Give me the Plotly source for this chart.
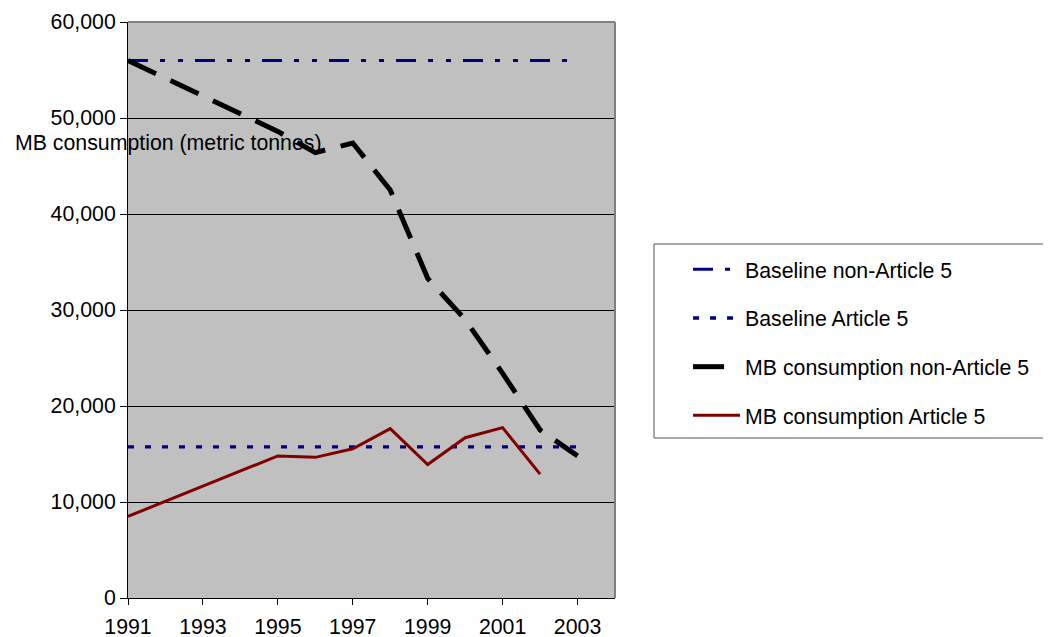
import plotly.graph_objects as go

years = [1991, 1992, 1993, 1994, 1995, 1996, 1997, 1998, 1999, 2000, 2001, 2002, 2003]
baseline_non_a5 = [56000, 56000, 56000, 56000, 56000, 56000, 56000, 56000, 56000, 56000, 56000, 56000, 56000]
baseline_a5 = [15750, 15750, 15750, 15750, 15750, 15750, 15750, 15750, 15750, 15750, 15750, 15750, 15750]
mb_non_a5 = [56000, None, None, None, 48600, 46400, 47400, 42500, 33300, 29000, 23400, 17500, 14800]
mb_a5 = [8500, None, None, None, 14800, 14650, 15550, 17650, 13900, 16700, 17750, 12900, None]

x_ticks = [1991, 1993, 1995, 1997, 1999, 2001, 2003]
y_ticks = [0, 10000, 20000, 30000, 40000, 50000, 60000]

FONT = "Liberation Sans, Arial, sans-serif"
FS = 21.3

# page body has an 8px margin; plot area target: x 128..615, y 22..598 on screen
L, T = 120, 14
PW, PH = 487, 576

fig = go.Figure()
fig.add_trace(go.Scatter(
    x=years, y=baseline_non_a5, mode="lines", name="Baseline non-Article 5",
    legendgroup="g1",
    line=dict(color="#000080", width=3, dash="20px,12px,5px,13px,5px,12px"),
))
fig.add_trace(go.Scatter(
    x=years, y=baseline_a5, mode="lines", name="Baseline Article 5",
    legendgroup="g2",
    line=dict(color="#000080", width=3.3, dash="6px,11px"),
))
fig.add_trace(go.Scatter(
    x=years, y=mb_non_a5, mode="lines", name="MB consumption non-Article 5",
    legendgroup="g3", connectgaps=True,
    line=dict(color="#000000", width=5, dash="31px,16px"),
))
fig.add_trace(go.Scatter(
    x=years, y=mb_a5, mode="lines", name="MB consumption Article 5",
    legendgroup="g4", connectgaps=True,
    line=dict(color="#800000", width=3),
))

W, H = 1051, 637
fig.update_layout(
    width=W, height=H,
    margin=dict(l=L, r=W - L - PW, t=T, b=H - T - PH),
    paper_bgcolor="white",
    plot_bgcolor="#C0C0C0",
    font=dict(family=FONT, size=FS, color="black"),
    showlegend=True,
    legend=dict(
        x=1.15, y=0.606, xanchor="left", yanchor="top",
        bgcolor="rgba(0,0,0,0)", borderwidth=0,
        font=dict(family=FONT, size=FS, color="black"),
        tracegroupgap=18, itemwidth=47,
    ),
    xaxis=dict(
        range=[1991, 2004], tickvals=x_ticks, ticktext=[str(v) for v in x_ticks],
        showgrid=False, zeroline=False, automargin=False,
        showline=True, linecolor="black", linewidth=1,
        ticks="outside", ticklen=6, tickcolor="black", ticklabelstandoff=3,
        tickfont=dict(family=FONT, size=FS, color="black"),
    ),
    yaxis=dict(
        range=[0, 60000], tickvals=y_ticks, tickformat=",",
        showgrid=True, gridcolor="black", gridwidth=1,
        zeroline=False, automargin=False,
        showline=True, linecolor="black", linewidth=1,
        ticks="outside", ticklen=7, tickcolor="black",
        tickfont=dict(family=FONT, size=FS, color="black"),
    ),
    shapes=[
        dict(type="line", xref="x domain", yref="y domain", x0=0, x1=1, y0=1, y1=1,
             line=dict(color="#808080", width=2)),
        dict(type="line", xref="x domain", yref="y domain", x0=1, x1=1, y0=0, y1=1,
             line=dict(color="#808080", width=2)),
        dict(type="rect", xref="paper", yref="paper",
             x0=(654 - 128) / PW, x1=(1049 - 128) / PW,
             y0=(598 - 438) / PH, y1=(598 - 244) / PH,
             fillcolor="white", line=dict(color="#555555", width=1), layer="below"),
    ],
    annotations=[
        dict(text="MB consumption (metric tonnes)", xref="paper", yref="paper",
             x=(13 - 128) / PW, y=(598 - 143) / PH, xanchor="left", yanchor="middle",
             showarrow=False, font=dict(family=FONT, size=FS, color="black")),
    ],
)

fig.write_html("out.html")
